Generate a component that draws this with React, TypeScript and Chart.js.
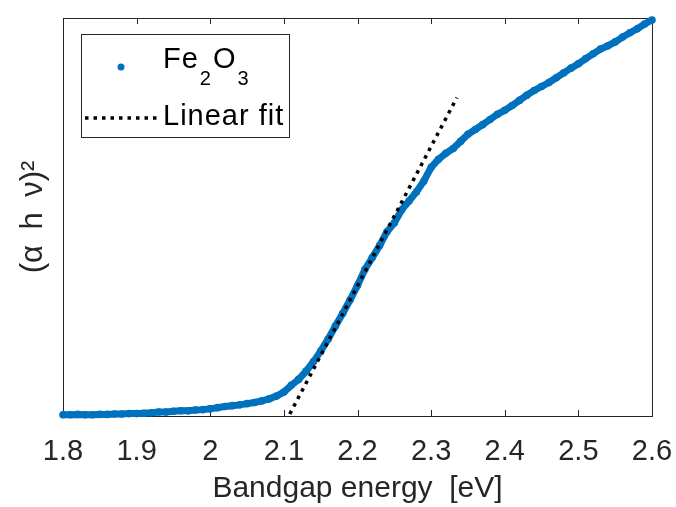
import React, { useEffect, useRef } from 'react';
import { Chart, registerables } from 'chart.js';

Chart.register(...registerables);

// ---- data ----
const energy = [
  1.80, 1.81, 1.82, 1.83, 1.84, 1.85, 1.86, 1.87, 1.88, 1.89,
  1.90, 1.91, 1.92, 1.93, 1.94, 1.95, 1.96, 1.97, 1.98, 1.99,
  2.00, 2.01, 2.02, 2.03, 2.04, 2.05, 2.06, 2.07, 2.08, 2.09,
  2.10, 2.11, 2.12, 2.13, 2.14, 2.15, 2.16, 2.17, 2.18, 2.19,
  2.20, 2.21, 2.22, 2.23, 2.24, 2.25, 2.26, 2.27, 2.28, 2.29,
  2.30, 2.31, 2.32, 2.33, 2.34, 2.35, 2.36, 2.37, 2.38, 2.39,
  2.40, 2.41, 2.42, 2.43, 2.44, 2.45, 2.46, 2.47, 2.48, 2.49,
  2.50, 2.51, 2.52, 2.53, 2.54, 2.55, 2.56, 2.57, 2.58, 2.59,
  2.60,
];
const absorbance = [
  0.003, 0.003, 0.004, 0.003, 0.003, 0.004, 0.004, 0.005, 0.005, 0.006,
  0.006, 0.007, 0.008, 0.010, 0.010, 0.012, 0.013, 0.013, 0.015, 0.016,
  0.018, 0.021, 0.024, 0.026, 0.028, 0.031, 0.034, 0.038, 0.043, 0.050,
  0.060, 0.077, 0.092, 0.112, 0.136, 0.163, 0.193, 0.226, 0.258, 0.292,
  0.328, 0.368, 0.398, 0.428, 0.463, 0.485, 0.518, 0.540, 0.563, 0.590,
  0.625, 0.645, 0.660, 0.672, 0.690, 0.708, 0.720, 0.732, 0.745, 0.758,
  0.768, 0.780, 0.793, 0.806, 0.818, 0.828, 0.838, 0.850, 0.862, 0.874,
  0.885, 0.898, 0.910, 0.922, 0.930, 0.940, 0.952, 0.963, 0.973, 0.985,
  0.995,
];
const fitEnergy = [2.108, 2.335];
const fitValue = [0.005, 0.8];
const xTickValues = [1.8, 1.9, 2.0, 2.1, 2.2, 2.3, 2.4, 2.5, 2.6];

const seriesLabel = 'Fe2O3';
const fitLabel = 'Linear fit';
const xTitle = 'Bandgap energy  [eV]';
const yTitle = '(\u03B1\u2002h\u2002\u03BD)\u00B2';

// ---- styles ----
const BLUE = '#0072BD';
const AXIS = '#262626';
const FONT = '"Liberation Sans", Arial, Helvetica, sans-serif';

const boxPlugin = {
  id: 'matlabBox',
  beforeDatasetsDraw(chart: any) {
    const { ctx, chartArea } = chart;
    const { left, right, top, bottom } = chartArea;
    const xs = chart.scales.x;
    ctx.save();
    ctx.strokeStyle = AXIS;
    ctx.lineWidth = 1;
    ctx.strokeRect(Math.round(left) + 0.5, Math.round(top) + 0.5, Math.round(right - left), Math.round(bottom - top));
    ctx.beginPath();
    for (const v of xTickValues) {
      const px = Math.round(xs.getPixelForValue(v)) + 0.5;
      ctx.moveTo(px, bottom);
      ctx.lineTo(px, bottom - 6);
      ctx.moveTo(px, top);
      ctx.lineTo(px, top + 6);
    }
    ctx.stroke();
    ctx.restore();
  },
};

const legendPlugin = {
  id: 'boxLegend',
  afterDraw(chart: any) {
    const ctx = chart.ctx;
    ctx.save();
    ctx.fillStyle = '#ffffff';
    ctx.fillRect(81.5, 34.5, 208, 103);
    ctx.strokeStyle = AXIS;
    ctx.lineWidth = 1;
    ctx.strokeRect(81.5, 34.5, 208, 103);
    // marker
    ctx.fillStyle = BLUE;
    ctx.beginPath();
    ctx.arc(121, 67, 3.5, 0, Math.PI * 2);
    ctx.fill();
    // Fe2O3 with subscripts
    ctx.fillStyle = '#000000';
    ctx.textBaseline = 'alphabetic';
    ctx.textAlign = 'left';
    (ctx as any).letterSpacing = '1px';
    const parts = [
      { t: 'Fe', sub: false },
      { t: '2', sub: true },
      { t: 'O', sub: false },
      { t: '3', sub: true },
    ];
    let x = 163;
    for (const p of parts) {
      ctx.font = p.sub ? `20px ${FONT}` : `29px ${FONT}`;
      ctx.fillText(p.t, x, p.sub ? 85 : 68);
      x += ctx.measureText(p.t).width + 1;
    }
    // dotted line
    ctx.strokeStyle = '#000000';
    ctx.lineWidth = 3.5;
    ctx.setLineDash([3.5, 5]);
    ctx.beginPath();
    ctx.moveTo(85, 118);
    ctx.lineTo(158, 118);
    ctx.stroke();
    ctx.setLineDash([]);
    ctx.font = `29px ${FONT}`;
    ctx.fillText(fitLabel, 163, 125);
    ctx.restore();
  },
};

export default function App() {
  const ref = useRef<HTMLCanvasElement | null>(null);

  useEffect(() => {
    if (!ref.current) return;
    const chart = new Chart(ref.current, {
      type: 'scatter',
      data: {
        datasets: [
          {
            label: fitLabel,
            data: fitEnergy.map((e, i) => ({ x: e, y: fitValue[i] })),
            showLine: true,
            borderColor: '#000000',
            borderWidth: 3.5,
            borderDash: [3.5, 5],
            pointRadius: 0,
            clip: false,
          } as any,
          {
            label: seriesLabel,
            data: energy.map((e, i) => ({ x: e, y: absorbance[i] })),
            showLine: true,
            borderColor: BLUE,
            backgroundColor: BLUE,
            borderWidth: 7,
            pointRadius: 3.8,
            pointBorderWidth: 0,
            pointBackgroundColor: BLUE,
            tension: 0,
            clip: false,
          } as any,
        ],
      },
      options: {
        animation: false,
        responsive: false,
        maintainAspectRatio: false,
        layout: { padding: { top: 18, right: 24, left: 0, bottom: 0 } },
        plugins: {
          legend: { display: false },
          tooltip: { enabled: false },
        },
        scales: {
          x: {
            type: 'linear',
            min: 1.8,
            max: 2.6,
            grid: { display: false, drawTicks: false },
            border: { display: false },
            afterBuildTicks: (scale: any) => {
              scale.ticks = xTickValues.map((v) => ({ value: v }));
            },
            afterFit: (scale: any) => {
              scale.height = 91;
              scale.paddingLeft = 0;
              scale.paddingRight = 0;
            },
            ticks: {
              color: AXIS,
              font: { family: FONT, size: 29 },
              padding: 19,
              maxRotation: 0,
              autoSkip: false,
              callback: (v: any) => String(Number(Number(v).toFixed(1))),
            },
            title: {
              display: true,
              text: xTitle,
              color: AXIS,
              font: { family: FONT, size: 30 },
              padding: { top: 0, bottom: 0 },
            },
          },
          y: {
            type: 'linear',
            min: 0,
            max: 1,
            grid: { display: false, drawTicks: false },
            border: { display: false },
            ticks: { display: false },
            afterFit: (scale: any) => {
              scale.width = 63;
              scale.paddingTop = 0;
              scale.paddingBottom = 0;
            },
            title: {
              display: true,
              text: yTitle,
              color: AXIS,
              font: { family: FONT, size: 31 },
              padding: { top: 15, bottom: 0 },
            },
          },
        },
      } as any,
      plugins: [boxPlugin, legendPlugin],
    });
    return () => chart.destroy();
  }, []);

  return (
    <div style={{ position: 'fixed', left: 0, top: 0, width: 676, height: 507, background: '#fff' }}>
      <canvas ref={ref} width={676} height={507} style={{ display: 'block' }} />
    </div>
  );
}
